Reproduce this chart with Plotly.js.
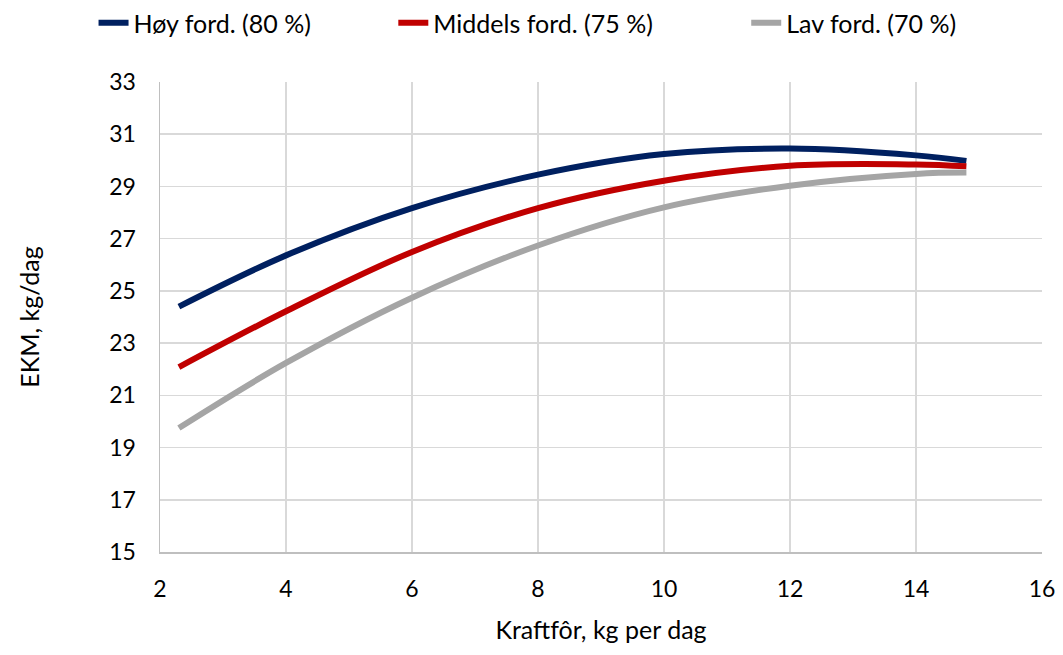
<!DOCTYPE html>
<html>
<head>
<meta charset="utf-8">
<script src="https://cdn.plot.ly/plotly-3.0.1.min.js"></script>
<style>
  html, body { margin: 0; padding: 0; background: #fff; }
  #chart { width: 1063px; height: 655px; }
</style>
</head>
<body>
<div id="chart"></div>
<script>
// Kraftfôr (kg per dag) and energy-corrected milk yield (EKM, kg/dag)
const kraftfor = [2.3, 4, 6, 8, 10, 12, 14, 14.8];
const hoyFord = [24.40, 26.36, 28.17, 29.45, 30.24, 30.45, 30.19, 29.98];
const middelsFord = [22.08, 24.22, 26.49, 28.17, 29.22, 29.79, 29.84, 29.77];
const lavFord = [19.75, 22.24, 24.74, 26.74, 28.20, 29.03, 29.48, 29.53];

const seriesNames = ['Høy ford. (80 %)', 'Middels ford. (75 %)', 'Lav ford. (70 %)'];
const seriesColors = ['#002060', '#C00000', '#A5A5A5'];
const xTicks = [2, 4, 6, 8, 10, 12, 14, 16];
const yTicks = [15, 17, 19, 21, 23, 25, 27, 29, 31, 33];

const font = 'Lato, "Open Sans", sans-serif';
const legendIds = ['legend', 'legend2', 'legend3'];
const legendLeft = [0.088, 0.370, 0.702];

const traces = [hoyFord, middelsFord, lavFord].map((ys, i) => ({
  x: kraftfor,
  y: ys,
  name: seriesNames[i],
  legend: legendIds[i],
  type: 'scatter',
  mode: 'lines',
  line: { color: seriesColors[i], width: 6, shape: 'spline', smoothing: 1 },
  hoverinfo: 'x+y'
}));

const legendStyle = (x) => ({
  orientation: 'h',
  x: x, xanchor: 'left', xref: 'container',
  y: 1, yanchor: 'top', yref: 'container',
  font: { family: font, size: 25, color: '#000000' },
  bgcolor: 'rgba(0,0,0,0)'
});

const layout = {
  width: 1063,
  height: 655,
  margin: { l: 160, r: 21, t: 82, b: 103 },
  paper_bgcolor: '#ffffff',
  plot_bgcolor: '#ffffff',
  font: { family: font, size: 24, color: '#000000' },
  showlegend: true,
  legend: legendStyle(legendLeft[0]),
  legend2: legendStyle(legendLeft[1]),
  legend3: legendStyle(legendLeft[2]),
  xaxis: {
    range: [2, 16],
    tickvals: xTicks,
    ticktext: xTicks.map(String),
    showgrid: true,
    gridcolor: '#d9d9d9',
    gridwidth: 1.5,
    showline: true,
    linecolor: '#bfbfbf',
    linewidth: 1.5,
    zeroline: false,
    ticks: '',
    ticklabelstandoff: 16,
    tickfont: { family: font, size: 23, color: '#000000' },
    title: { text: 'Kraftfôr, kg per dag', font: { family: font, size: 25, color: '#000000' }, standoff: 20 }
  },
  yaxis: {
    range: [15, 33],
    tickvals: yTicks,
    ticktext: yTicks.map(String),
    showgrid: true,
    gridcolor: '#d9d9d9',
    gridwidth: 1.5,
    showline: true,
    linecolor: '#bfbfbf',
    linewidth: 1.5,
    zeroline: false,
    ticks: '',
    ticklabelstandoff: 18,
    tickfont: { family: font, size: 23, color: '#000000' },
    title: { text: 'EKM, kg/dag', font: { family: font, size: 25, color: '#000000' }, standoff: 62 }
  }
};

Plotly.newPlot('chart', traces, layout, { displayModeBar: false, staticPlot: true });
</script>
</body>
</html>
